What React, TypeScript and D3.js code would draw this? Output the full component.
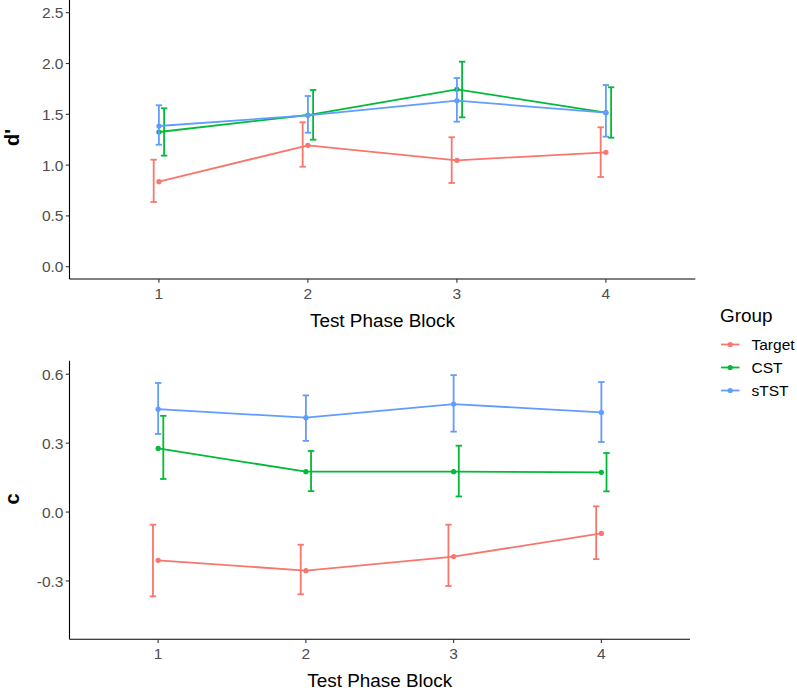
import React from "react";
import * as d3 from "d3";

const blocks = [1, 2, 3, 4];
const groups = ["Target", "CST", "sTST"];
const colors = ["#F8766D", "#00BA38", "#619CFF"];
const dodge = [-0.035, 0.035, 0];

// d' panel
const dTarget = [0.837, 1.195, 1.047, 1.126];
const dTargetLo = [0.637, 0.984, 0.824, 0.883];
const dTargetHi = [1.053, 1.421, 1.274, 1.372];
const dCST = [1.326, 1.493, 1.746, 1.516];
const dCSTLo = [1.093, 1.25, 1.47, 1.27];
const dCSTHi = [1.559, 1.739, 2.018, 1.766];
const dSTST = [1.385, 1.49, 1.634, 1.516];
const dSTSTLo = [1.201, 1.319, 1.427, 1.28];
const dSTSTHi = [1.589, 1.68, 1.857, 1.788];
const dTicks = [0.0, 0.5, 1.0, 1.5, 2.0, 2.5];

// c panel
const cTarget = [-0.21, -0.255, -0.194, -0.093];
const cTargetLo = [-0.367, -0.358, -0.322, -0.205];
const cTargetHi = [-0.055, -0.142, -0.055, 0.025];
const cCST = [0.277, 0.176, 0.176, 0.173];
const cCSTLo = [0.144, 0.091, 0.068, 0.09];
const cCSTHi = [0.419, 0.266, 0.289, 0.257];
const cSTST = [0.448, 0.411, 0.47, 0.434];
const cSTSTLo = [0.34, 0.31, 0.35, 0.305];
const cSTSTHi = [0.562, 0.508, 0.596, 0.566];
const cTicks = [-0.3, 0.0, 0.3, 0.6];

const FONT = "Liberation Sans, Arial, sans-serif";

type Series = { mean: number[]; lo: number[]; hi: number[] };

function Panel(props: {
  left: number;
  right: number;
  top: number;
  bottom: number;
  yDomain: [number, number];
  ticks: number[];
  series: Series[];
  yTitle: string;
  yTitleX: number;
  yTitleY: number;
}) {
  const { left, right, top, bottom, yDomain, ticks, series, yTitle, yTitleX, yTitleY } = props;
  const x = d3.scaleLinear().domain([0.4, 4.6]).range([left, right]);
  const y = d3.scaleLinear().domain(yDomain).range([bottom, top]);
  const line = d3
    .line<number>()
    .x((_, i) => x(blocks[i]))
    .y((v) => y(v));
  const cap = 3.2;
  return (
    <g>
      {series.map((s, gi) => (
        <g key={gi}>
          <path d={line(s.mean) || ""} fill="none" stroke={colors[gi]} strokeWidth={1.8} />
          {blocks.map((b, i) => {
            const xe = x(b + dodge[gi]);
            return (
              <g key={i} stroke={colors[gi]} strokeWidth={1.8}>
                <line x1={xe} x2={xe} y1={y(s.lo[i])} y2={y(s.hi[i])} />
                <line x1={xe - cap} x2={xe + cap} y1={y(s.lo[i])} y2={y(s.lo[i])} />
                <line x1={xe - cap} x2={xe + cap} y1={y(s.hi[i])} y2={y(s.hi[i])} />
              </g>
            );
          })}
          {blocks.map((b, i) => (
            <circle key={"p" + i} cx={x(b)} cy={y(s.mean[i])} r={2.6} fill={colors[gi]} />
          ))}
        </g>
      ))}
      {/* axes */}
      <line x1={left} x2={left} y1={top} y2={bottom} stroke="#000" strokeWidth={1.1} />
      <line x1={left} x2={right} y1={bottom} y2={bottom} stroke="#000" strokeWidth={1.1} />
      {ticks.map((t) => (
        <g key={"yt" + t}>
          <line x1={left - 3.7} x2={left} y1={y(t)} y2={y(t)} stroke="#333" strokeWidth={1.1} />
          <text
            x={left - 6}
            y={y(t)}
            dy="0.36em"
            textAnchor="end"
            fontFamily={FONT}
            fontSize={15.5}
            fill="#4D4D4D"
          >
            {t.toFixed(1)}
          </text>
        </g>
      ))}
      {blocks.map((b) => (
        <g key={"xt" + b}>
          <line x1={x(b)} x2={x(b)} y1={bottom} y2={bottom + 3.7} stroke="#333" strokeWidth={1.1} />
          <text
            x={x(b)}
            y={bottom + 20}
            textAnchor="middle"
            fontFamily={FONT}
            fontSize={15.5}
            fill="#4D4D4D"
          >
            {b}
          </text>
        </g>
      ))}
      <text
        x={(left + right) / 2}
        y={bottom + 48}
        textAnchor="middle"
        fontFamily={FONT}
        fontSize={18.9}
        fill="#000"
      >
        Test Phase Block
      </text>
      <text
        transform={`translate(${yTitleX},${yTitleY}) rotate(-90)`}
        textAnchor="middle"
        dy="0.35em"
        fontFamily={FONT}
        fontSize={20}
        fontWeight="bold"
        fill="#000"
      >
        {yTitle}
      </text>
    </g>
  );
}

export default function App() {
  const dSeries: Series[] = [
    { mean: dTarget, lo: dTargetLo, hi: dTargetHi },
    { mean: dCST, lo: dCSTLo, hi: dCSTHi },
    { mean: dSTST, lo: dSTSTLo, hi: dSTSTHi },
  ];
  const cSeries: Series[] = [
    { mean: cTarget, lo: cTargetLo, hi: cTargetHi },
    { mean: cCST, lo: cCSTLo, hi: cCSTHi },
    { mean: cSTST, lo: cSTSTLo, hi: cSTSTHi },
  ];
  const legendY = [344.5, 367.5, 390.5];
  return (
    <svg
      width={797}
      height={690}
      style={{ position: "absolute", left: 0, top: 0, background: "#fff" }}
    >
      <rect width={797} height={690} fill="#fff" />
      <Panel
        left={69.5}
        right={695.3}
        top={0}
        bottom={279}
        yDomain={[-0.121, 2.625]}
        ticks={dTicks}
        series={dSeries}
        yTitle="d'"
        yTitleX={11.5}
        yTitleY={137.5}
      />
      <Panel
        left={69.5}
        right={690}
        top={360.7}
        bottom={639.3}
        yDomain={[-0.554, 0.659]}
        ticks={cTicks}
        series={cSeries}
        yTitle="c"
        yTitleX={11.5}
        yTitleY={499}
      />
      <g>
        <text x={720} y={322} fontFamily={FONT} fontSize={18.9} fill="#000">
          Group
        </text>
        {groups.map((g, i) => (
          <g key={g}>
            <line
              x1={721}
              x2={739.5}
              y1={legendY[i]}
              y2={legendY[i]}
              stroke={colors[i]}
              strokeWidth={1.8}
            />
            <circle cx={730.2} cy={legendY[i]} r={2.6} fill={colors[i]} />
            <text
              x={751.5}
              y={legendY[i]}
              dy="0.36em"
              fontFamily={FONT}
              fontSize={15.5}
              fill="#000"
            >
              {g}
            </text>
          </g>
        ))}
      </g>
    </svg>
  );
}
